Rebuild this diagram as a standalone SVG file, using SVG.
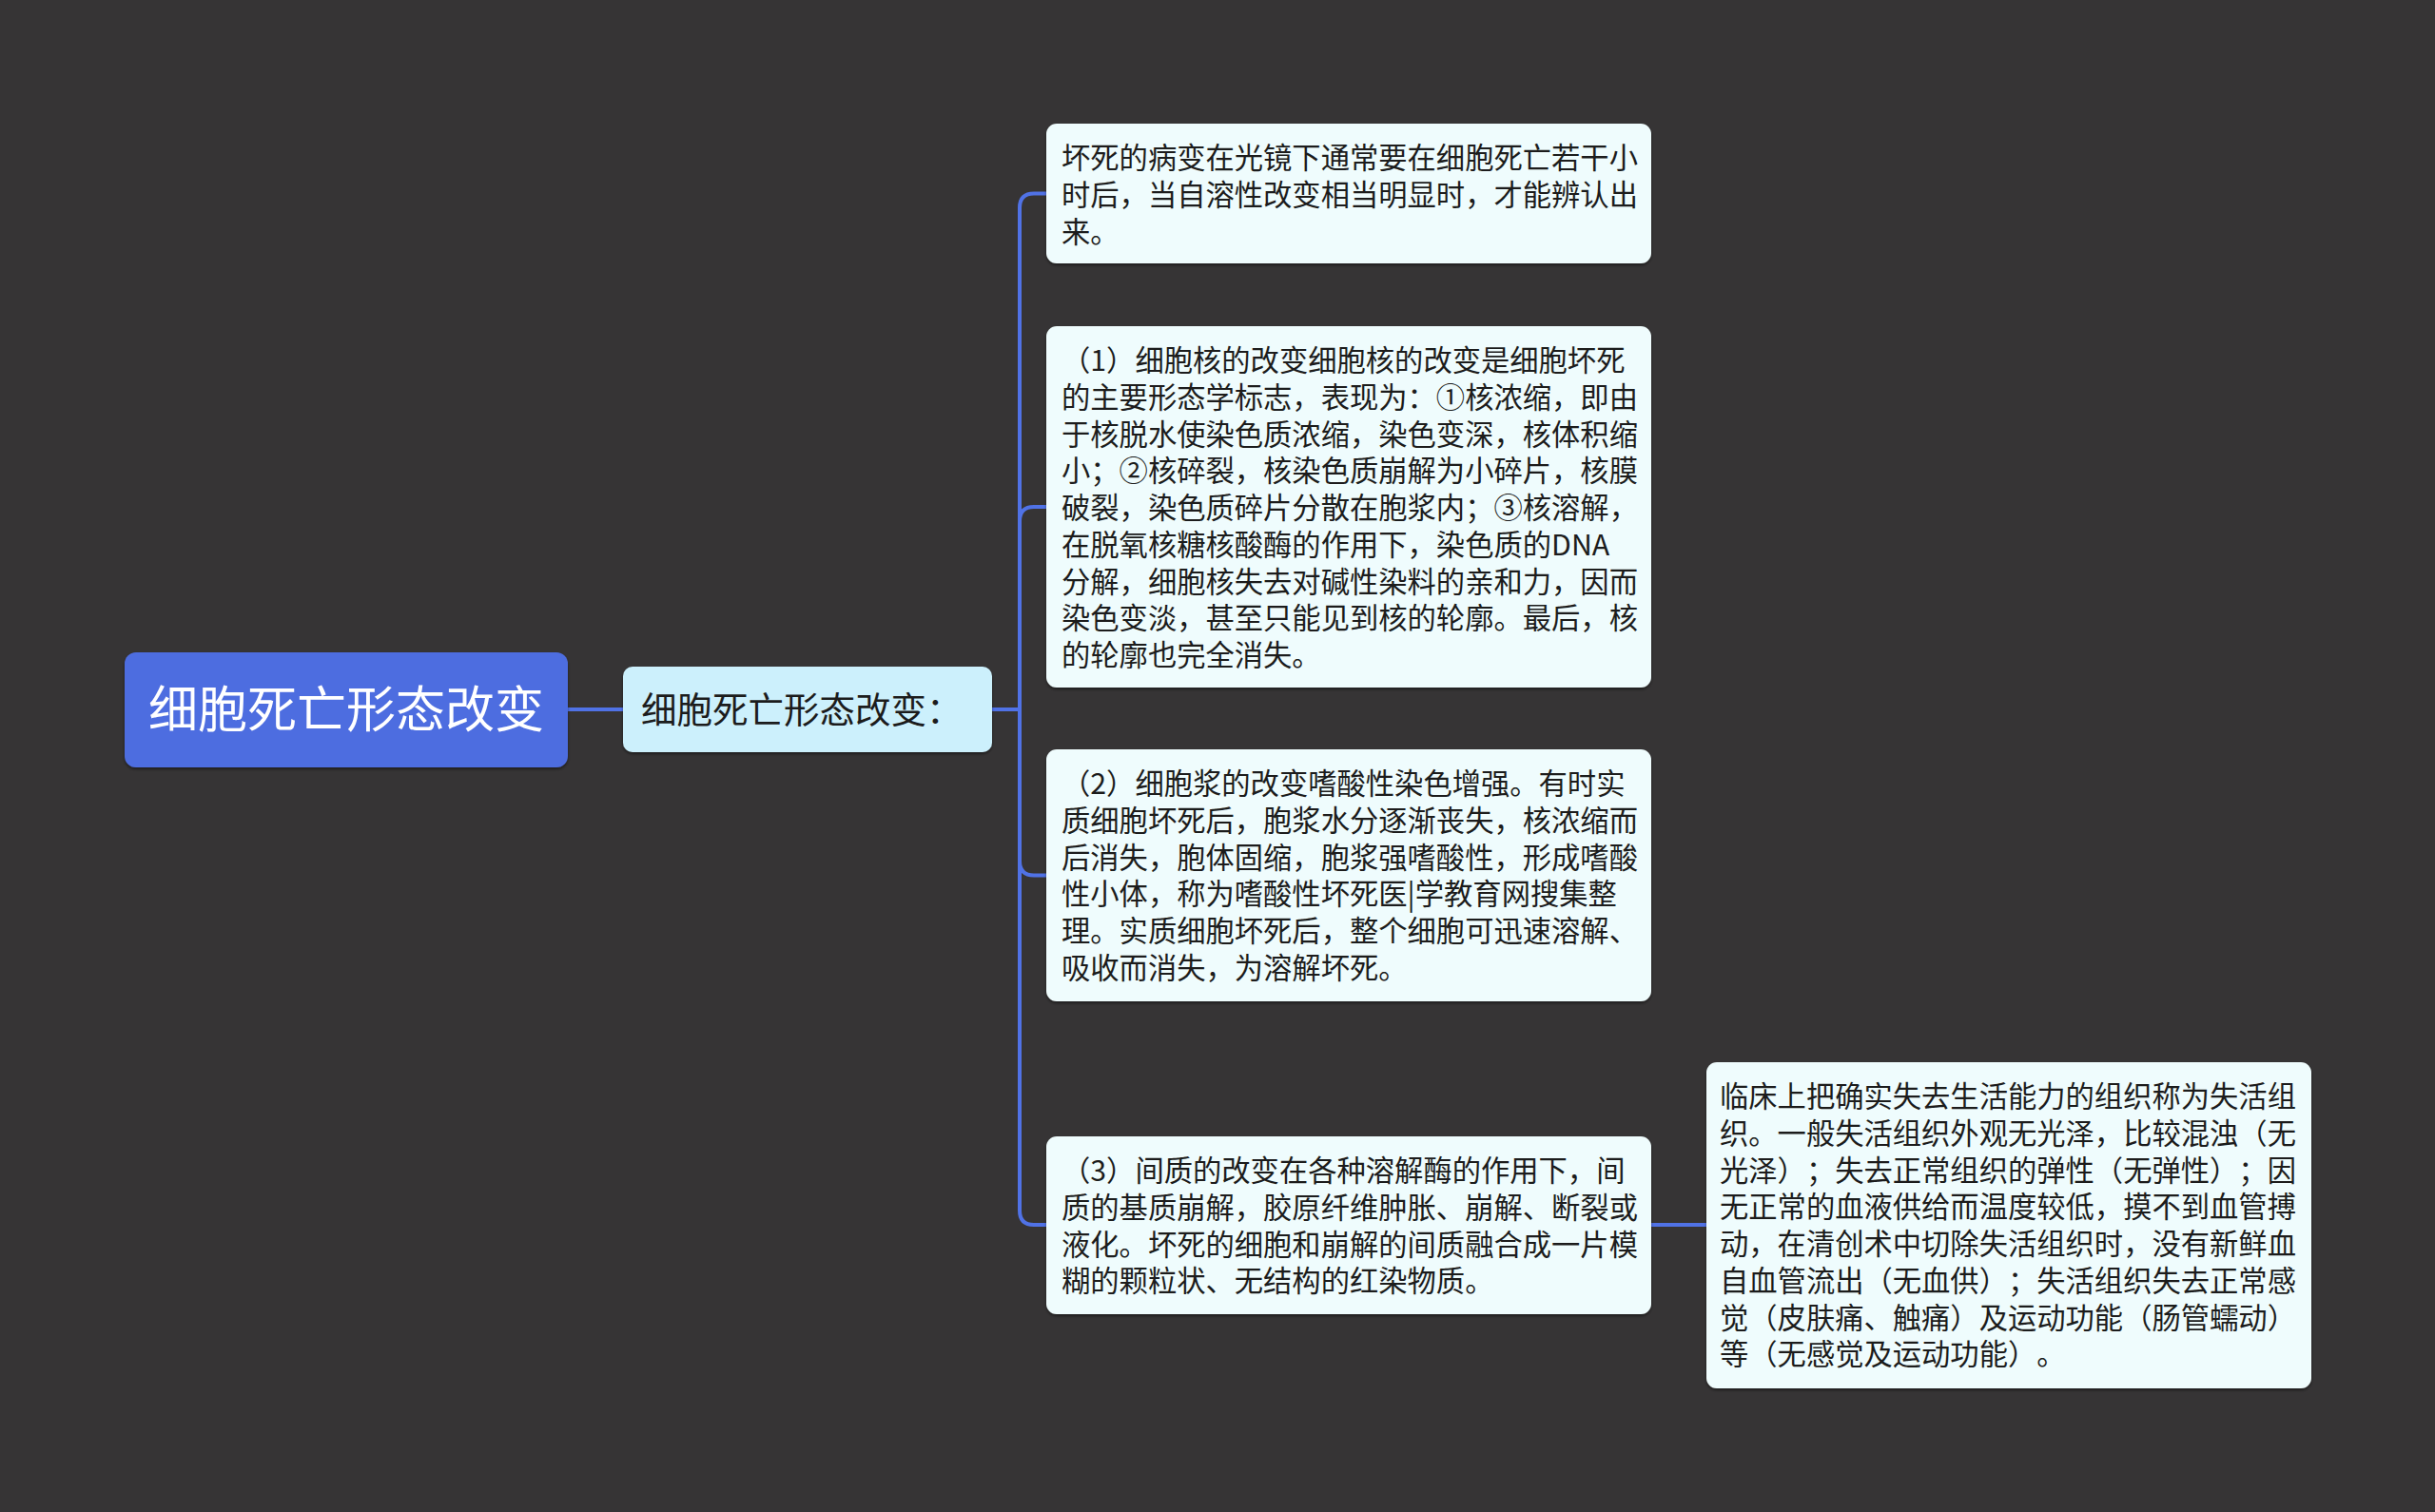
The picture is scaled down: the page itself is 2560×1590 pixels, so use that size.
<svg xmlns="http://www.w3.org/2000/svg" width="2560" height="1590" viewBox="0 0 2560 1590">
<defs>
<style>
.bg{fill:#363435}
.conn{fill:none;stroke:#5072e6;stroke-width:4;stroke-linecap:butt}
.root{fill:#4e6de0}
.sub{fill:#ccf0fc}
.box{fill:#effcfd}
text{font-feature-settings:"chws" 0,"halt" 0;text-spacing-trim:space-all;font-kerning:none}
.t{font-family:"Noto Sans CJK SC","Noto Sans",sans-serif;font-size:30.3px;fill:#1c1c1c}
.rt{font-family:"Noto Sans CJK SC","Noto Sans",sans-serif;font-size:52px;fill:#ffffff}
.st{font-family:"Noto Sans CJK SC","Noto Sans",sans-serif;font-size:37.5px;fill:#1c1c1c}
</style>
<filter id="sh" x="-5%" y="-5%" width="110%" height="115%">
<feDropShadow dx="0" dy="2" stdDeviation="1.5" flood-color="#000" flood-opacity="0.45"/>
</filter>
</defs>
<rect class="bg" x="0" y="0" width="2560" height="1590"/>
<g id="connectors">
<path class="conn" d="M597 746 H655"/>
<path class="conn" d="M1043 746 H1072"/>
<path class="conn" d="M1072 746 V218.5 Q1072 203.5 1087 203.5 H1100"/>
<path class="conn" d="M1072 746 V548 Q1072 533 1087 533 H1100"/>
<path class="conn" d="M1072 746 V905.5 Q1072 920.5 1087 920.5 H1100"/>
<path class="conn" d="M1072 746 V1273 Q1072 1288 1087 1288 H1100"/>
<path class="conn" d="M1736 1288 H1794"/>
</g>
<g id="root">
<rect class="root" x="131" y="686" width="466" height="121" rx="12" filter="url(#sh)"/>
<text class="rt" x="364" y="765" text-anchor="middle">细胞死亡形态改变</text>
</g>
<g id="sub">
<rect class="sub" x="655" y="701" width="388" height="90" rx="10" filter="url(#sh)"/>
<text class="st" x="674" y="760">细胞死亡形态改变：</text>
</g>
<g id="box1">
<rect class="box" x="1100" y="130" width="636" height="147" rx="11" filter="url(#sh)"/>
<text class="t" x="1116" y="177">
<tspan x="1116">坏死的病变在光镜下通常要在细胞死亡若干小</tspan>
<tspan x="1116" dy="38.75">时后，当自溶性改变相当明显时，才能辨认出</tspan>
<tspan x="1116" dy="38.75">来。</tspan>
</text>
</g>
<g id="box2">
<rect class="box" x="1100" y="343" width="636" height="380" rx="11" filter="url(#sh)"/>
<text class="t" x="1116" y="390">
<tspan x="1116">（1）细胞核的改变细胞核的改变是细胞坏死</tspan>
<tspan x="1116" dy="38.75">的主要形态学标志，表现为：①核浓缩，即由</tspan>
<tspan x="1116" dy="38.75">于核脱水使染色质浓缩，染色变深，核体积缩</tspan>
<tspan x="1116" dy="38.75">小；②核碎裂，核染色质崩解为小碎片，核膜</tspan>
<tspan x="1116" dy="38.75">破裂，染色质碎片分散在胞浆内；③核溶解，</tspan>
<tspan x="1116" dy="38.75">在脱氧核糖核酸酶的作用下，染色质的DNA</tspan>
<tspan x="1116" dy="38.75">分解，细胞核失去对碱性染料的亲和力，因而</tspan>
<tspan x="1116" dy="38.75">染色变淡，甚至只能见到核的轮廓。最后，核</tspan>
<tspan x="1116" dy="38.75">的轮廓也完全消失。</tspan>
</text>
</g>
<g id="box3">
<rect class="box" x="1100" y="788" width="636" height="265" rx="11" filter="url(#sh)"/>
<text class="t" x="1116" y="835">
<tspan x="1116">（2）细胞浆的改变嗜酸性染色增强。有时实</tspan>
<tspan x="1116" dy="38.75">质细胞坏死后，胞浆水分逐渐丧失，核浓缩而</tspan>
<tspan x="1116" dy="38.75">后消失，胞体固缩，胞浆强嗜酸性，形成嗜酸</tspan>
<tspan x="1116" dy="38.75">性小体，称为嗜酸性坏死医|学教育网搜集整</tspan>
<tspan x="1116" dy="38.75">理。实质细胞坏死后，整个细胞可迅速溶解、</tspan>
<tspan x="1116" dy="38.75">吸收而消失，为溶解坏死。</tspan>
</text>
</g>
<g id="box4">
<rect class="box" x="1100" y="1195" width="636" height="187" rx="11" filter="url(#sh)"/>
<text class="t" x="1116" y="1242">
<tspan x="1116">（3）间质的改变在各种溶解酶的作用下，间</tspan>
<tspan x="1116" dy="38.75">质的基质崩解，胶原纤维肿胀、崩解、断裂或</tspan>
<tspan x="1116" dy="38.75">液化。坏死的细胞和崩解的间质融合成一片模</tspan>
<tspan x="1116" dy="38.75">糊的颗粒状、无结构的红染物质。</tspan>
</text>
</g>
<g id="box5">
<rect class="box" x="1794" y="1117" width="636" height="343" rx="11" filter="url(#sh)"/>
<text class="t" x="1808" y="1164">
<tspan x="1808">临床上把确实失去生活能力的组织称为失活组</tspan>
<tspan x="1808" dy="38.75">织。一般失活组织外观无光泽，比较混浊（无</tspan>
<tspan x="1808" dy="38.75">光泽）；失去正常组织的弹性（无弹性）；因</tspan>
<tspan x="1808" dy="38.75">无正常的血液供给而温度较低，摸不到血管搏</tspan>
<tspan x="1808" dy="38.75">动，在清创术中切除失活组织时，没有新鲜血</tspan>
<tspan x="1808" dy="38.75">自血管流出（无血供）；失活组织失去正常感</tspan>
<tspan x="1808" dy="38.75">觉（皮肤痛、触痛）及运动功能（肠管蠕动）</tspan>
<tspan x="1808" dy="38.75">等（无感觉及运动功能）。</tspan>
</text>
</g>
</svg>
